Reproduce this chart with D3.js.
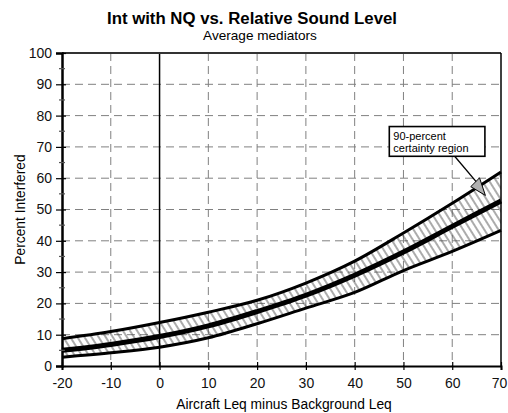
<!DOCTYPE html>
<html>
<head>
<meta charset="utf-8">
<script src="https://cdn.jsdelivr.net/npm/d3@7"></script>
<style>
  body { margin: 0; background: #fff; }
  svg { font-family: "Liberation Sans", Arial, sans-serif; }
</style>
</head>
<body>
<svg width="508" height="413"></svg>
<script>
    // values
    var levels = [-20, -10, 0, 10, 20, 30, 40, 50, 60, 70];
    var meanPct = [5, 6.9, 9.4, 12.8, 17.4, 22.6, 29, 36.4, 44.6, 52.7];
    var upperPct = [8.7, 11, 13.9, 17.2, 21, 26.5, 33.5, 42.5, 52, 62];
    var lowerPct = [2.8, 4.2, 6, 9, 13.5, 18.5, 23.5, 30.5, 36.6, 43.3];
    var xTicks = [-20, -10, 0, 10, 20, 30, 40, 50, 60, 70];
    var yTicks = [0, 10, 20, 30, 40, 50, 60, 70, 80, 90, 100];
    var yMinor = [5, 15, 25, 35, 45, 55, 65, 75, 85, 95];
    var noteLines = ["90-percent", "certainty region"];

    var svg = d3.select("svg"),
        x = d3.scaleLinear().domain([-20, 70]).range([62, 501]),
        y = d3.scaleLinear().domain([0, 100]).range([366, 53]);

    var data = levels.map(function(d, i) {
        return {x: d, mid: meanPct[i], hi: upperPct[i], lo: lowerPct[i]};
    });

    // hatch pattern for the band
    var pat = svg.append("defs").append("pattern")
        .attr("id", "hatch")
        .attr("patternUnits", "userSpaceOnUse")
        .attr("width", 6).attr("height", 6)
        .attr("patternTransform", "rotate(-32)");
    pat.append("line")
        .attr("x1", 1).attr("y1", 0).attr("x2", 1).attr("y2", 6)
        .attr("stroke", "#444").attr("stroke-width", 0.9);

    // grid
    svg.append("g").selectAll("line")
        .data(yTicks.filter(function(d) { return d > 0 && d < 100; }))
        .enter().append("line")
        .attr("x1", x(-20)).attr("x2", x(70))
        .attr("y1", function(d) { return y(d); })
        .attr("y2", function(d) { return y(d); })
        .attr("stroke", "#808080").attr("stroke-dasharray", "8,5");
    svg.append("g").selectAll("line")
        .data(xTicks.filter(function(d) { return d > -20 && d < 70 && d !== 0; }))
        .enter().append("line")
        .attr("x1", function(d) { return x(d); })
        .attr("x2", function(d) { return x(d); })
        .attr("y1", y(100)).attr("y2", y(0))
        .attr("stroke", "#808080").attr("stroke-dasharray", "8,5");

    // band
    var area = d3.area()
        .x(function(d) { return x(d.x); })
        .y0(function(d) { return y(d.lo); })
        .y1(function(d) { return y(d.hi); })
        .curve(d3.curveCatmullRom);
    svg.append("path").datum(data)
        .attr("d", area)
        .attr("fill", "url(#hatch)");

    // zero line and borders
    svg.append("line")
        .attr("x1", x(0)).attr("x2", x(0)).attr("y1", y(100)).attr("y2", y(0))
        .attr("stroke", "#000").attr("stroke-width", 1.5);
    svg.append("line")
        .attr("x1", x(-20)).attr("x2", x(70)).attr("y1", y(100)).attr("y2", y(100))
        .attr("stroke", "#333").attr("stroke-width", 2);
    svg.append("line")
        .attr("x1", x(70)).attr("x2", x(70)).attr("y1", y(100)).attr("y2", y(0))
        .attr("stroke", "#000").attr("stroke-width", 1.5);

    // curves
    function curve(key, w) {
        svg.append("path").datum(data)
            .attr("d", d3.line()
                .x(function(d) { return x(d.x); })
                .y(function(d) { return y(d[key]); })
                .curve(d3.curveCatmullRom))
            .attr("fill", "none")
            .attr("stroke", "#000")
            .attr("stroke-width", w);
    }
    curve("hi", 3);
    curve("lo", 3);
    curve("mid", 5);

    // axes
    var yAxis = svg.append("g")
        .attr("transform", "translate(" + x(-20) + ",0)")
        .call(d3.axisLeft(y).tickValues(yTicks).tickSize(6).tickPadding(4));
    yAxis.selectAll(".tick line").attr("x2", 4).attr("x1", -6).attr("stroke-width", 1.2);
    yAxis.select(".domain").attr("stroke-width", 2.5);
    yAxis.selectAll(".tick text").attr("font-size", 14).attr("fill", "#111")
        .attr("font-family", "Liberation Sans, Arial, sans-serif");
    svg.append("g").selectAll("line").data(yMinor).enter().append("line")
        .attr("x1", x(-20) - 3).attr("x2", x(-20) + 3)
        .attr("y1", function(d) { return y(d); })
        .attr("y2", function(d) { return y(d); })
        .attr("stroke", "#555").attr("stroke-width", 1.2);

    var xAxis = svg.append("g")
        .attr("transform", "translate(0," + y(0) + ")")
        .call(d3.axisBottom(x).tickValues(xTicks).tickSize(4).tickPadding(8)
            .tickFormat(function(d) { return String(d); }));
    xAxis.selectAll(".tick line").attr("y1", -4).attr("stroke-width", 1.2);
    xAxis.select(".domain").attr("stroke-width", 2);
    xAxis.selectAll(".tick text").attr("font-size", 14).attr("fill", "#111")
        .attr("font-family", "Liberation Sans, Arial, sans-serif")
        .attr("dx", function(d) { return d === 70 ? -2 : 0; });

    // titles
    svg.append("text").attr("x", 252).attr("y", 24)
        .attr("text-anchor", "middle").attr("font-size", 16.8).attr("font-weight", "bold")
        .text("Int with NQ vs. Relative Sound Level");
    svg.append("text").attr("x", 260).attr("y", 39.5)
        .attr("text-anchor", "middle").attr("font-size", 13.6)
        .text("Average mediators");
    svg.append("text").attr("x", 284).attr("y", 409)
        .attr("text-anchor", "middle").attr("font-size", 13.8)
        .text("Aircraft Leq minus Background Leq");
    svg.append("text")
        .attr("transform", "translate(25," + ((y(0) + y(100)) / 2) + ") rotate(-90)")
        .attr("text-anchor", "middle").attr("font-size", 13.8)
        .text("Percent Interfered");

    // annotation
    var note = svg.append("g");
    note.append("line")
        .attr("x1", x(60.5)).attr("y1", y(67))
        .attr("x2", x(66.2)).attr("y2", y(56.5))
        .attr("stroke", "#000").attr("stroke-width", 1.3);
    note.append("path")
        .attr("d", "M" + x(63.8) + "," + y(57.3) + "L" + x(65.6) + "," + y(60.1) +
                   "L" + x(66.8) + "," + y(54.5) + "Z")
        .attr("fill", "#b0b0b0").attr("stroke", "#000").attr("stroke-width", 1);
    note.append("rect")
        .attr("x", x(47.1)).attr("y", y(76.5))
        .attr("width", x(66.7) - x(47.1)).attr("height", y(67) - y(76.5))
        .attr("fill", "#fff").attr("stroke", "#000").attr("stroke-width", 1.6);
    note.selectAll("text.n").data(noteLines).enter().append("text")
        .attr("x", x(47.1) + 4)
        .attr("y", function(d, i) { return y(76.5) + 13 + i * 12; })
        .attr("font-size", 11)
        .text(function(d) { return d; });
</script>
</body>
</html>
